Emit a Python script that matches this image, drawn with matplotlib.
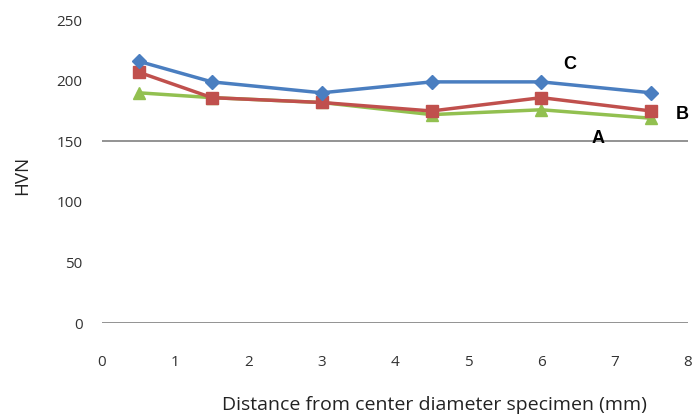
import numpy as np
import matplotlib.pyplot as plt

plt.rcParams['font.family'] = ['Open Sans', 'DejaVu Sans']

distancia = [0.5, 1.5, 3, 4.5, 6, 7.5]
hvn_c = [216, 199, 190, 199, 199, 190]
hvn_b = [207, 186, 182, 175, 186, 175]
hvn_a = [190, 186, 182, 172, 176, 169]

fig = plt.figure(figsize=(6.99, 4.18), dpi=100)
ax = fig.add_axes([0.146, 0.227, 0.838, 0.725])

ax.axhline(150, color='#808080', lw=1.2, zorder=1)
ax.axhline(0, color='#808080', lw=1.2, zorder=1)

ax.plot(distancia, hvn_a, color='#92c050', lw=2.5, marker='^', ms=9, zorder=3)
ax.plot(distancia, hvn_b, color='#c0504d', lw=2.5, marker='s', ms=9, zorder=4)
ax.plot(distancia, hvn_c, color='#4a7ec0', lw=2.5, marker='D', ms=7, zorder=5)

# etiquetas das curvas
rotulo = dict(fontsize=13, fontweight='bold', ha='center', va='center', family='Liberation Sans')
ax.text(6.39, 213, 'C', **rotulo)
ax.text(7.93, 172, 'B', **rotulo)
ax.text(6.78, 152, 'A', **rotulo)

ax.set_xlim(0, 8)
ax.set_ylim(0, 250)
ax.set_xticks(range(0, 9))
ax.set_yticks(range(0, 251, 50))
for s in ax.spines.values():
    s.set_visible(False)
ax.tick_params(length=0, labelsize=11, colors='#333333')
ax.tick_params(axis='x', pad=23)
ax.tick_params(axis='y', pad=14)

fig.text(0.031, 0.58, 'HVN', fontsize=13.5, color='#222222', rotation=90, ha='center', va='center')
fig.text(0.622, 0.031, 'Distance from center diameter specimen (mm)', fontsize=14,
         color='#222222', ha='center', va='center')

plt.savefig('out.png')
